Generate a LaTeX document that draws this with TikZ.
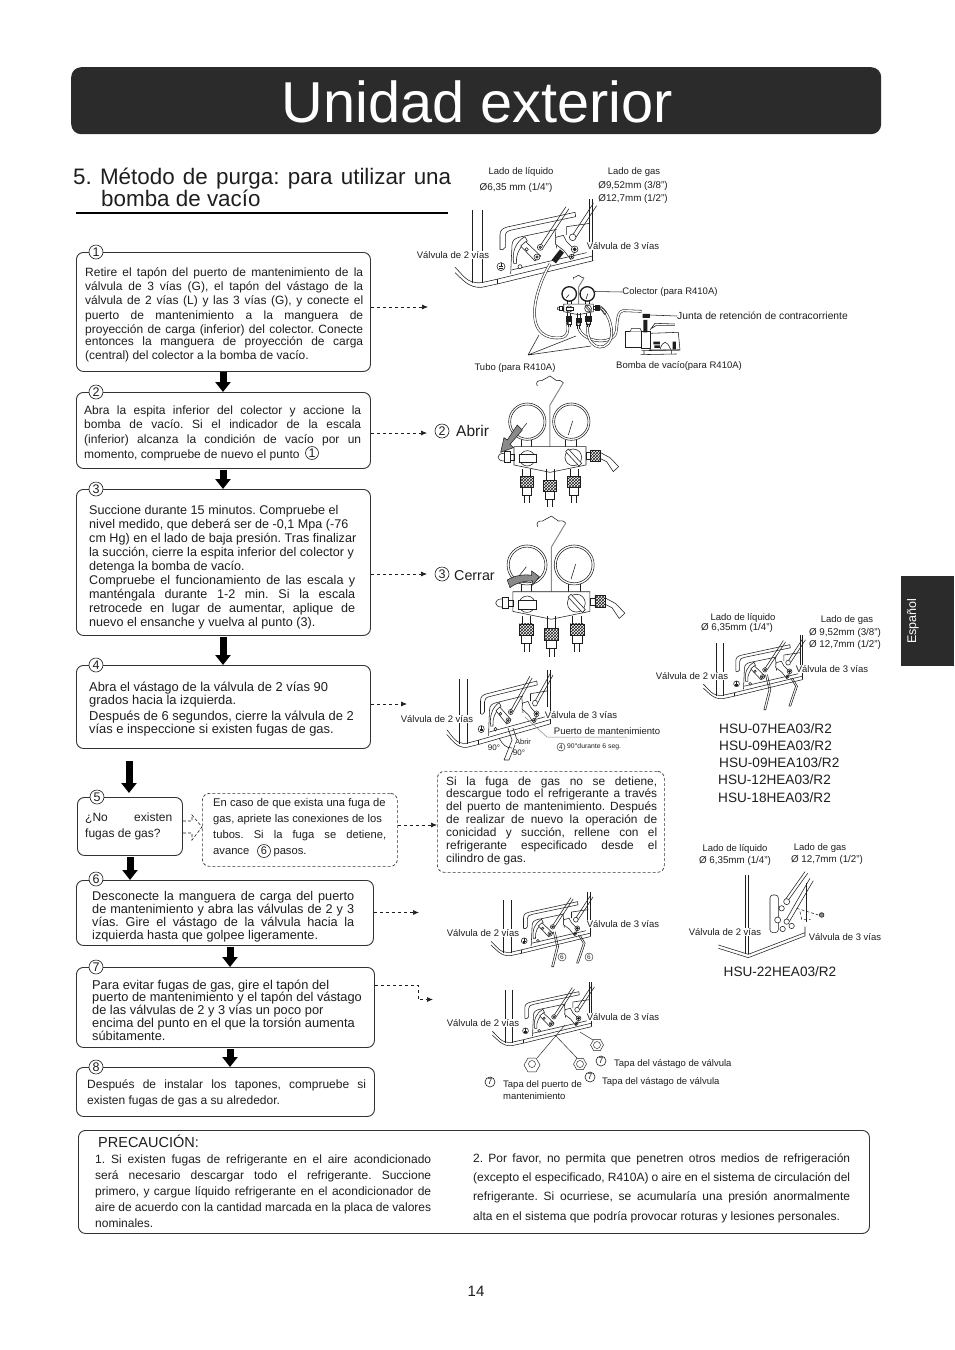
\documentclass[tikz,border=0pt]{standalone}
\usepackage{fontspec}
\setmainfont{Liberation Sans}
\usetikzlibrary{arrows.meta,patterns,calc}
\definecolor{ink}{HTML}{1E1E1E}
\definecolor{hdr}{HTML}{2B2B2B}
\definecolor{edge}{HTML}{333333}
\definecolor{midg}{HTML}{8A8A8A}
\frenchspacing
\newcommand\fs[1]{\fontsize{#1}{#1}\selectfont}
\newcommand\myJ[1]{\hbox to \hsize{#1}}
\newcommand\myL[1]{\hbox to \hsize{#1\hfil}}
\newcommand\tb[7]{\node[anchor=base west,inner sep=0pt,text=ink] (#1) at (#2,#3) {\vtop{\hsize=#4pt \fs{#5}\frenchspacing\baselineskip=#6pt \lineskiplimit=-20pt \parindent=0pt #7}};}
\newcommand\lb[4]{\node[inner sep=0pt,text=ink,fill=white] (#1) at (#2) {\fs{#3}#4};}
\newcommand\lbw[4]{\node[anchor=west,inner sep=0pt,text=ink] (#1) at (#2) {\fs{#3}#4};}
\newcommand\hexa[3]{\draw ({#1+#3},#2)--({#1+.5*#3},{#2+.87*#3})--({#1-.5*#3},{#2+.87*#3})--({#1-#3},#2)--({#1-.5*#3},{#2-.87*#3})--({#1+.5*#3},{#2-.87*#3})--cycle;}
\tikzset{
  x=1pt,y=-1pt,
  stepbox/.style={draw=edge,line width=.9pt,rounded corners=7pt,anchor=north west,inner sep=0pt},
  dashbox/.style={draw=edge,densely dashed,line width=.7pt,rounded corners=7pt,anchor=north west,inner sep=0pt},
  numc/.style={circle,draw=ink,fill=white,inner sep=0pt,minimum size=14pt,line width=.6pt,text=ink,font=\fs{12.5}},
  numm/.style={circle,draw=ink,fill=white,inner sep=0pt,minimum size=8pt,line width=.4pt,text=ink,font=\fs{6.5}},
  blockarrow/.style={-{Triangle[width=15pt,length=10pt]},line width=7pt,black},
  dashconn/.style={-{Latex[length=6pt,width=5pt]},line width=.7pt,dash pattern=on 3pt off 3pt,ink},
  lnk/.style={draw=ink,line width=.55pt},
  hose/.style={double=white,double distance=1.5pt,line width=.55pt,draw=ink},
  meshfill/.style={pattern=crosshatch,pattern color=ink},
  valves/.pic={
    \begin{scope}[lnk]
    \draw (187,150)--(187,370) (217,150)--(217,370);
    \draw (135,322) .. controls (160,345) and (170,372) .. (215,368) -- (260,358) -- (548,288);
    \draw (135,338) .. controls (155,355) and (175,385) .. (215,382) -- (262,372) -- (550,302);
    \draw (262,358)--(262,372);
    \draw (537,118)--(537,245) (548,118)--(548,302);
    \draw (270,268)--(270,225) .. controls (270,210) and (278,205) .. (292,201)--(495,157)--(497,170)--(305,210) .. controls (292,213) and (286,218) .. (286,228)--(286,262) .. controls (283,270) and (273,272) .. (270,268);
    \draw (302,342)--(306,255) .. controls (307,240) and (315,235) .. (330,231)--(440,208);
    \draw (470,200)--(540,190);
    \draw (304,330)--(530,278);
    \draw (435,210)--(440,265) (470,200)--(470,225);
    \draw[fill=white] (345,230) .. controls (318,245) and (305,275) .. (311,310) -- (320,310) .. controls (316,285) and (330,258) .. (352,243) -- cycle;
    \draw[fill=white] (332,258)--(347,245)--(392,288)--(375,303)--cycle;
    \draw (350,268) circle[radius=5];
    \draw (392,255)--(468,140) (401,261)--(477,146);
    \draw[fill=white] (391,262) circle[radius=9] (381,291) circle[radius=9];
    \draw[fill=midg] (391,262) circle[radius=4] (381,291) circle[radius=4];
    \draw[fill=white] (438,232)--(460,226)--(470,245)--(497,272)--(482,298)--(462,272)--(436,252)--cycle;
    \draw (488,225)--(550,130) (498,232)--(560,137);
    \draw[fill=white] (488,232) circle[radius=10] (494,268) circle[radius=10] (485,290) circle[radius=7];
    \draw[fill=ink] (494,268) circle[radius=5] (485,290) circle[radius=3];
    \draw (273,320) circle[radius=12];
    \draw (273,310)--(273,320) (266,320)--(280,320) (268,325)--(278,325);
    \draw[fill=white] (330,320) circle[radius=6];
    \end{scope}
  },
  downpipes/.pic={
    \begin{scope}[lnk]
    \draw (394,282)--(408,344)--(387,428) (402,282)--(416,344)--(395,428) (387,428)--(395,428);
    \draw (498,296)--(519,330)--(491,413) (506,296)--(527,330)--(499,413) (491,413)--(499,413);
    \end{scope}
  },
  manifold/.pic={
    \begin{scope}[lnk]
    \draw[midg,line width=1pt] (450,155)--(450,30)--(490,-37);
    \draw (490,-37) .. controls (485,-45) and (475,-45) .. (470,-43)--(450,-57)--(425,-43) .. controls (415,-45) and (405,-38) .. (412,-27);
    \draw (382,80) circle[radius=56] (382,80) circle[radius=50];
    \draw (514,80) circle[radius=56] (514,80) circle[radius=50];
    \draw (360,110)--(380,85) (505,120)--(518,78);
    \draw (365,134)--(365,155) (395,134)--(395,155) (497,134)--(497,155) (530,134)--(530,155);
    \draw[fill=white] (342,155)--(558,155)--(558,210)--(450,232)--(342,210)--cycle;
    \draw[fill=white] (382,190) circle[radius=23];
    \draw[fill=white] (358,178) rectangle (408,203);
    \draw[fill=white] (520,187) circle[radius=25];
    \draw[fill=white] (497,170)--(505,162)--(545,205)--(537,213)--cycle;
    \draw[fill=white] (312,170) rectangle (330,202);
    \draw (330,178) rectangle (342,197);
    \draw (312,175) .. controls (288,175) and (288,198) .. (312,198);
    \draw (558,172) rectangle (572,192);
    \draw[meshfill] (572,165) rectangle (600,198);
    \draw (600,172)--(630,188)--(656,215) (600,190)--(620,200)--(640,230) (656,215)--(640,230);
    \foreach \xx/\dd in {380/0,450/12,522/0}{
      \draw ($(\xx,222)+(-12,0)$)--($(\xx,245+\dd)+(-12,0)$) ($(\xx,222)+(12,0)$)--($(\xx,245+\dd)+(12,0)$);
      \draw[meshfill] ($(\xx,245+\dd)+(-19,0)$) rectangle ($(\xx,278+\dd)+(19,0)$);
      \draw ($(\xx,278+\dd)+(-14,0)$) rectangle ($(\xx,300+\dd)+(14,0)$);
      \draw ($(\xx,300+\dd)+(-7,0)$)--($(\xx,325+\dd)+(-7,0)$) ($(\xx,300+\dd)+(7,0)$)--($(\xx,325+\dd)+(7,0)$);
    }
    \end{scope}
  }
}
\begin{document}
\begin{tikzpicture}
\useasboundingbox (0,0) rectangle (954,1350);
\fill[white] (0,0) rectangle (954,1350);
% header
\node[anchor=north west,fill=hdr,rounded corners=10pt,minimum width=810pt,minimum height=67pt,inner sep=0pt] (hdrbar) at (71,67) {};
\node[inner sep=0pt,text=white] (hdrtext) at (477.5,101.5) {\fs{57.7}Unidad exterior};
% title
\node[anchor=base west,inner sep=0pt,text=ink] (tit1) at (73,184) {\hbox to 378pt{\fs{22.4}\frenchspacing 5. Método de purga: para utilizar una}};
\node[anchor=base west,inner sep=0pt,text=ink] (tit2) at (101,206) {\fs{22.4}bomba de vacío};
\coordinate (rulea) at (76,213); \coordinate (ruleb) at (448,213);
\draw[black,line width=1.6pt] (rulea)--(ruleb);
% side tab
\node[anchor=north west,fill=hdr,minimum width=53pt,minimum height=90pt,inner sep=0pt] (tab) at (901,576) {};
\node[rotate=90,inner sep=0pt,text=white] (tabt) at (913,621) {\fs{12.5}Español};
% step boxes
\node[stepbox,minimum width=294pt,minimum height=119pt] (s1) at (76,252) {};
\node[stepbox,minimum width=294pt,minimum height=76pt] (s2) at (76,392) {};
\node[stepbox,minimum width=294pt,minimum height=146pt] (s3) at (76,489) {};
\node[stepbox,minimum width=294pt,minimum height=83pt] (s4) at (76,665) {};
\node[stepbox,minimum width=105pt,minimum height=58pt] (s5) at (77,797) {};
\node[dashbox,minimum width=195pt,minimum height=73pt] (d5) at (202,793) {};
\node[dashbox,minimum width=227pt,minimum height=101pt] (df) at (437,771) {};
\node[stepbox,minimum width=297pt,minimum height=65pt] (s6) at (76,880) {};
\node[stepbox,minimum width=298pt,minimum height=80pt] (s7) at (76,967) {};
\node[stepbox,minimum width=298pt,minimum height=49pt] (s8) at (76,1067) {};
\node[stepbox,minimum width=791pt,minimum height=103pt] (pr) at (78,1130) {};
% numbers
\node[numc] (n1) at (96,252) {1};
\node[numc] (n2) at (96,392) {2};
\node[numc] (n3) at (96,489) {3};
\node[numc] (n4) at (96,665) {4};
\node[numc] (n5) at (97,797) {5};
\node[numc] (n6) at (96,879) {6};
\node[numc] (n7) at (96,967) {7};
\node[numc] (n8) at (96,1067) {8};
% step text
\tb{t1}{85}{276}{278}{12}{14.4}{%
 \myJ{Retire el tapón del puerto de mantenimiento de la}
 \myJ{válvula de 3 vías (G), el tapón del vástago de la}
 \myJ{válvula de 2 vías (L) y las 3 vías (G), y conecte el}
 \myJ{puerto de mantenimiento a la manguera de}
 \myJ{proyección de carga (inferior) del colector. Conecte}
 \vskip-2.8pt
 \myJ{entonces la manguera de proyección de carga}
 \myL{(central) del colector a la bomba de vacío.}}
\tb{t2}{84}{414}{277}{12}{14.7}{%
 \myJ{Abra la espita inferior del colector y accione la}
 \myJ{bomba de vacío. Si el indicador de la escala}
 \myJ{(inferior) alcanza la condición de vacío por un}
 \myL{momento, compruebe de nuevo el punto}}
\node[numc,minimum size=13pt] (c1) at (312,453) {1};
\tb{t3}{89}{514}{268}{12.6}{14}{%
 \myL{Succione durante 15 minutos. Compruebe el}
 \myL{nivel medido, que deberá ser de -0,1 Mpa (-76}
 \myL{cm Hg) en el lado de baja presión. Tras finalizar}
 \myL{la succión, cierre la espita inferior del colector y}
 \myL{detenga la bomba de vacío.}
 \hbox to 266pt{Compruebe el funcionamiento de las escala y}
 \hbox to 266pt{manténgala durante 1-2 min. Si la escala}
 \hbox to 266pt{retrocede en lugar de aumentar, aplique de}
 \myL{nuevo el ensanche y vuelva al punto (3).}}
\tb{t4}{89}{691}{270}{12.9}{13.5}{%
 \myL{Abra el vástago de la válvula de 2 vías 90}
 \myL{grados hacia la izquierda.}
 \vskip2.2pt
 \myL{Después de 6 segundos, cierre la válvula de 2}
 \myL{vías e inspeccione si existen fugas de gas.}}
\tb{t5}{85}{821}{87}{12}{16}{%
 \myJ{¿No existen}
 \myL{fugas de gas?}}
\tb{t5b}{213}{806}{173}{11.2}{16}{%
 \myL{En caso de que exista una fuga de}
 \myL{gas, apriete las conexiones de los}
 \myJ{tubos. Si la fuga se detiene,}
 \myL{avance \hspace{18pt} pasos.}}
\node[numc,minimum size=13pt,font=\fs{11}] (c6) at (264,851) {6};
\tb{tf}{446}{785}{211}{11.9}{12.9}{%
 \myJ{Si la fuga de gas no se detiene,}
 \myJ{descargue todo el refrigerante a través}
 \myJ{del puerto de mantenimiento. Después}
 \myJ{de realizar de nuevo la operación de}
 \myJ{conicidad y succión, rellene con el}
 \myJ{refrigerante especificado desde el}
 \myL{cilindro de gas.}}
\tb{t6}{92}{900}{262}{12.7}{13}{%
 \myJ{Desconecte la manguera de carga del puerto}
 \myJ{de mantenimiento y abra las válvulas de 2 y 3}
 \myJ{vías. Gire el vástago de la válvula hacia la}
 \myL{izquierda hasta que golpee ligeramente.}}
\tb{t7}{92}{989}{272}{12.8}{12.8}{%
 \myL{Para evitar fugas de gas, gire el tapón del}
 \myL{puerto de mantenimiento y el tapón del vástago}
 \myL{de las válvulas de 2 y 3 vías un poco por}
 \myL{encima del punto en el que la torsión aumenta}
 \myL{súbitamente.}}
\tb{t8}{87}{1088}{279}{12}{16}{%
 \myJ{Después de instalar los tapones, compruebe si}
 \myL{existen fugas de gas a su alrededor.}}
% caution
\lbw{prt}{98,1141}{14.5}{PRECAUCIÓN:}
\tb{pl}{95}{1163}{336}{12}{16}{%
 \myJ{1. Si existen fugas de refrigerante en el aire acondicionado}
 \myJ{será necesario descargar todo el refrigerante. Succione}
 \myJ{primero, y cargue líquido refrigerante en el acondicionador de}
 \myJ{aire de acuerdo con la cantidad marcada en la placa de valores}
 \myL{nominales.}}
\tb{pq}{473}{1162}{377}{12}{19.4}{%
 \myJ{2. Por favor, no permita que penetren otros medios de refrigeración}
 \myJ{(excepto el especificado, R410A) o aire en el sistema de circulación del}
 \myJ{refrigerante. Si ocurriese, se acumularía una presión anormalmente}
 \myL{alta en el sistema que podría provocar roturas y lesiones personales.}}
\lb{pg}{476,1291}{15}{14}
% block arrows
\draw[blockarrow] ([xshift=147pt]s1.south west)--([xshift=147pt]s2.north west);
\draw[blockarrow] ([xshift=147pt,yshift=-1pt]s2.south west)--([xshift=147pt]s3.north west);
\draw[blockarrow] ([xshift=147pt,yshift=-1pt]s3.south west)--([xshift=147pt]s4.north west);
\draw[blockarrow] ([xshift=53pt,yshift=-12pt]s4.south west)--([xshift=52pt,yshift=4pt]s5.north west);
\draw[blockarrow] ([xshift=53pt,yshift=-1pt]s5.south west)--([xshift=54pt]s6.north west);
\draw[blockarrow] ([xshift=154pt,yshift=-1pt]s6.south west)--([xshift=154pt]s7.north west);
\draw[blockarrow] ([xshift=154pt,yshift=-1pt]s7.south west)--([xshift=154pt]s8.north west);
% dashed connectors
\coordinate (e1) at (428,307);
\coordinate (e2) at (427,433);
\coordinate (e3) at (427,574);
\coordinate (e4) at (407,704);
\coordinate (e6) at (419,912.5);
\coordinate (e7a) at (418,985);
\coordinate (e7) at (433,999.5);
\draw[dashconn] (s1.east |- e1)--(e1);
\draw[dashconn] (s2.east |- e2)--(e2);
\draw[dashconn] (s3.east |- e3)--(e3);
\draw[dashconn] (s4.east |- e4)--(e4);
\draw[dashconn] (d5.east |- 0,825)--(df.west |- 0,825);
\draw[dashconn] (s6.east |- e6)--(e6);
\draw[dashconn] (s7.east |- e7a)--(e7a)--(e7a |- e7)--(e7);
\draw[ink,densely dashed,line width=.6pt] (s5.east |- 0,821)--(192,821)--(192,815)--(d5.west |- 0,827)--(192,840)--(192,833)--(s5.east |- 0,833);
% circled marks beside manifolds
\node[numc] (m2) at (442,431) {2};
\lbw{abr}{456,431}{15.5}{Abrir};
\node[numc] (m3) at (442,574) {3};
\lbw{cer}{454,576}{14.3}{Cerrar};
% main illustration
\pic[shift={(410,160)},scale=.3333] {valves};
\begin{scope}[shift={(410,160)},scale=.3333]
\draw[hose] (420,312) .. controls (375,390) and (335,530) .. (440,534) .. controls (470,535) and (478,520) .. (472,485);
\draw[hose] (505,490) .. controls (500,540) and (590,560) .. (615,525) .. controls (625,510) and (615,455) .. (640,452) -- (695,454);
\draw[hose] (535,490) .. controls (520,560) and (585,585) .. (603,535) .. controls (612,500) and (590,450) .. (568,440);
\begin{scope}[lnk]
\draw[fill=white] (645,515) rectangle (695,562);
\draw[fill=white] (660,515)--(665,505)--(690,505)--(695,515);
\draw[fill=white] (720,520)--(805,517)--(810,570)--(720,570)--cycle;
\draw[fill=white] (695,515) rectangle (720,565);
\draw (695,572)--(808,570) (702,572)--(702,582) (785,570)--(785,582) (692,584)--(800,582);
\draw[fill=white] (720,510)--(735,490)--(795,492) (725,505)--(738,497)--(795,497);
\draw (750,568) .. controls (760,540) and (770,540) .. (782,568);
\end{scope}
\fill[ink] (730,545) rectangle (750,553) (733,556) rectangle (750,564) (788,545) rectangle (798,568) (698,462) rectangle (720,474) (700,480) rectangle (712,517);
\fill[ink] (425,300)--(450,268)--(462,278)--(438,310)--cycle;
\end{scope}
\pic[shift={(517,283)},scale=.1367,meshfill/.style={fill=ink}] {manifold};
\lb{a1}{521,172}{9.5}{Lado de líquido}
\lb{a2}{516,188}{9.9}{Ø6,35 mm (1/4")}
\lb{a3}{634,172}{9.5}{Lado de gas}
\lb{a4}{633,186}{9.8}{Ø9,52mm (3/8")}
\lb{a5}{633,199}{9.8}{Ø12,7mm (1/2")}
\lb{a6}{453,255}{9.5}{Válvula de 2 vías}
\lb{a7}{623,246}{9.5}{Válvula de 3 vías}
\lb{a8}{670,292}{9.5}{Colector (para R410A)}
\lbw{a9}{677,316}{10.3}{Junta de retención de contracorriente}
\lb{a10}{515,368}{9.5}{Tubo (para R410A)}
\lb{a11}{679,366}{9.5}{Bomba de vacío(para R410A)}
\coordinate (col) at (595,291.5);
\coordinate (jun) at (650,315);
\coordinate (tub) at (528,355);
\coordinate (tu1) at (539,335);
\coordinate (tu2) at (576,336);
\coordinate (tu3) at (591,346);
\draw[lnk] (a8.west)--(col);
\draw[lnk] (a9.west)--(jun);
\draw[lnk] (tub)--(tu1) (tub)--(tu2) (tub)--(tu3);
% manifolds
\pic[shift={(400,395)},scale=.3333] {manifold};
\pic[shift={(390.7,536.4)},scale=.357] {manifold};
\begin{scope}[shift={(400,395)},scale=.3333]
\draw[lnk,fill=midg] (352,90)--(367,105)--(330,148)--(340,158)--(302,172)--(312,128)--(322,135)--cycle;
\draw[lnk,fill=midg] (322,555) .. controls (345,540) and (375,538) .. (395,541)--(395,528)--(418,545)--(398,570)--(398,558) .. controls (375,558) and (350,562) .. (330,578)--cycle;
\end{scope}
% valve illustration, step 4
\pic[shift={(413,634.7)},xscale=.25,yscale=.295] {valves};
\draw[lnk] (508,728)--(512,740)--(504,760) (513,728)--(517,740)--(509,760) (504,760)--(509,760);
\draw[lnk] (499,738) .. controls (503,745) and (506,748) .. (512,748);
\coordinate (pm0) at (525,717); \coordinate (pm1) at (547,737); \coordinate (pm2) at (627,737);
\draw[midg,line width=.5pt] (pm0)--(pm1)--(pm2);
\lb{b1}{437,719}{9.5}{Válvula de 2 vías}
\lb{b2}{581,715}{9.5}{Válvula de 3 vías}
\lb{b3}{607,731}{9.5}{Puerto de mantenimiento}
\lb{b4}{523,742}{7.5}{Abrir}
\lb{b5}{494,748}{8}{90°}
\lb{b6}{519,753}{8}{90°}
\node[numm] (b7) at (561,747) {4};
\lbw{b8}{567,747}{6.8}{90°durante 6 seg.}
% valve illustration, steps 6 and 7
\pic[shift={(458.7,864)},scale=.24] {valves};
\pic[shift={(458.7,864)},scale=.24] {downpipes};
\lb{c11}{483,933}{9.5}{Válvula de 2 vías}
\lb{c12}{623,924}{9.5}{Válvula de 3 vías}
\node[numm] (c13) at (562,957) {6};
\node[numm] (c14) at (589,957) {6};
\pic[shift={(460,954)},scale=.24] {valves};
\lb{d1}{483,1023}{9.5}{Válvula de 2 vías}
\lb{d2}{623,1017}{9.5}{Válvula de 3 vías}
\begin{scope}[lnk,line width=.45pt]
\draw (580,1032)--(593,1040) (555,1035)--(577,1058) (565,1025)--(537,1058);
\hexa{597}{1045}{6.5}
\hexa{580}{1064}{6.5}
\hexa{532}{1065}{8}
\draw (597,1045) circle[radius=3.5] (580,1064) circle[radius=3.5] (532,1064) circle[radius=3.5];
\end{scope}
\node[numc,minimum size=10pt,font=\fs{8.5}] (d3) at (601,1061) {7};
\lbw{d4}{614,1064}{9.5}{Tapa del vástago de válvula}
\node[numc,minimum size=10pt,font=\fs{8.5}] (d5n) at (590,1077) {7};
\lbw{d6}{602,1082}{9.5}{Tapa del vástago de válvula}
\node[numc,minimum size=10pt,font=\fs{8.5}] (d7) at (490,1082) {7};
\lbw{d8}{503,1085}{9.5}{Tapa del puerto de}
\lbw{d9}{503,1096}{9.5}{mantenimiento}
% valve illustration, top right
\pic[shift={(671,607)},scale=.24] {valves};
\pic[shift={(671,607)},scale=.24] {downpipes};
\lb{e11}{743,618}{9.5}{Lado de líquido}
\lb{e12}{737,628}{9.8}{Ø 6,35mm (1/4")}
\lb{e13}{847,620}{9.5}{Lado de gas}
\lb{e14}{845,633}{9.8}{Ø 9,52mm (3/8")}
\lb{e15}{845,645}{9.8}{Ø 12,7mm (1/2")}
\lb{e16}{692,676}{9.5}{Válvula de 2 vías}
\lb{e17}{832,669}{9.5}{Válvula de 3 vías}
\lbw{h1}{719,729}{13.6}{HSU-07HEA03/R2}
\lbw{h2}{719,746}{13.6}{HSU-09HEA03/R2}
\lbw{h3}{719,763}{13.6}{HSU-09HEA103/R2}
\lbw{h4}{718,780}{13.6}{HSU-12HEA03/R2}
\lbw{h5}{718,798}{13.6}{HSU-18HEA03/R2}
% valve illustration, HSU-22
\begin{scope}[shift={(640,600)},scale=.3333,lnk]
\draw (316,825)--(316,1062) (326,825)--(326,1062);
\draw (235,1035)--(325,1063)--(495,998) (235,1045)--(325,1073)--(495,1008)--(495,980);
\draw (500,850)--(500,965);
\draw[rounded corners=3pt] (390,885) rectangle (415,998);
\draw (495,815)--(435,900) (503,820)--(442,905) (510,835)--(438,960) (520,842)--(448,965);
\draw[fill=white] (440,905) circle[radius=9] (425,925) circle[radius=8] (413,960) circle[radius=9] (440,965) circle[radius=8] (428,987) circle[radius=8] (455,978) circle[radius=8];
\draw[densely dashed] (470,925)--(535,945) (480,935)--(485,958)--(512,958);
\draw[fill=midg] (545,945) circle[radius=7];
\end{scope}
\lb{f1}{735,849}{9.5}{Lado de líquido}
\lb{f2}{735,861}{9.8}{Ø 6,35mm (1/4")}
\lb{f3}{820,848}{9.5}{Lado de gas}
\lb{f4}{827,860}{9.8}{Ø 12,7mm (1/2")}
\lb{f5}{725,932}{9.5}{Válvula de 2 vías}
\lb{f6}{845,937}{9.5}{Válvula de 3 vías}
\lb{f7}{780,972}{13.6}{HSU-22HEA03/R2}
\end{tikzpicture}
\end{document}
